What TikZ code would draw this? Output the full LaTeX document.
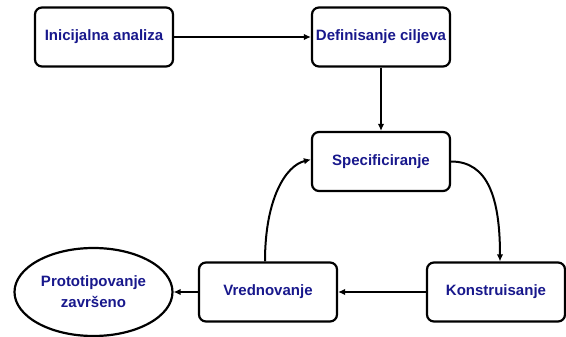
\documentclass[tikz,border=0pt]{standalone}
\usepackage{fontspec}
\setmainfont{Liberation Sans}
\usetikzlibrary{arrows.meta,shapes.geometric}
\definecolor{txt}{RGB}{24,24,140}
\begin{document}
\begin{tikzpicture}[x=1pt,y=-1pt,
  lbl/.style={font=\fontsize{15}{21}\selectfont\bfseries, text=txt},
  box/.style={lbl, draw, line width=2.2pt, rounded corners=7pt, minimum width=138pt, minimum height=59pt, inner sep=0pt},
  conn/.style={line width=2pt, -{Latex[length=7pt,width=6.5pt]}}]
\useasboundingbox (0,0) rectangle (566,337);
\node[box] (ia) at (104,37) {Inicijalna analiza};
\node[box] (dc) at (381,37) {Definisanje ciljeva};
\node[box] (sp) at (381,161.5) {Specificiranje};
\node[box] (ko) at (496,292) {Konstruisanje};
\node[box] (vr) at (268,292) {Vrednovanje};
\node[lbl, ellipse, draw, line width=2.2pt, minimum width=158pt, minimum height=88pt, inner sep=0pt, align=center] (pz) at (93.5,292) {Prototipovanje\\završeno};
\draw[conn] (ia) -- (dc);
\draw[conn] (dc) -- (sp);
\draw[conn] (sp.east) .. controls +(37,0) and +(0,-63) .. ([xshift=4pt]ko.north);
\draw[conn] (ko) -- (vr);
\draw[conn] ([xshift=-3pt]vr.north) .. controls +(0,-63) and +(-25,6) .. ([yshift=2pt]sp.west);
\draw[conn] (vr) -- (pz);
\end{tikzpicture}
\end{document}
